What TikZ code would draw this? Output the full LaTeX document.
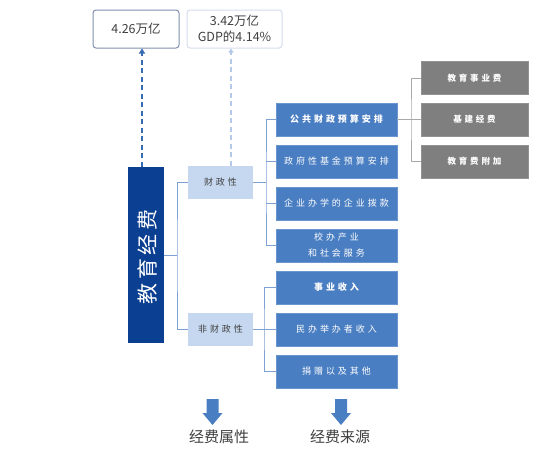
\documentclass[tikz,border=0pt]{standalone}
\usepackage{fontspec}
\setmainfont{Noto Sans CJK SC}
\newfontfamily\spcfont[LetterSpace=33]{Noto Sans CJK SC}
\newfontfamily\eduspc[LetterSpace=18]{Noto Sans CJK SC}
\usetikzlibrary{arrows.meta}
\definecolor{darkblue}{HTML}{0B3F91}
\definecolor{midblue}{HTML}{4A7EC2}
\definecolor{midborder}{HTML}{6A96D0}
\definecolor{paleblue}{HTML}{C6D8EF}
\definecolor{linkblue}{HTML}{7EA0D2}
\definecolor{boxgray}{HTML}{7F7F7F}
\definecolor{linkgray}{HTML}{A8A8A8}
\definecolor{textgray}{HTML}{404040}
\definecolor{topborder}{HTML}{8090B0}
\definecolor{lightborder}{HTML}{D3DEF0}
\definecolor{lightdash}{HTML}{B4C8E8}
\begin{document}
\begin{tikzpicture}[x=1pt,y=-1pt,
  topbox/.style={draw, rounded corners=3pt, line width=1pt, text=textgray,
    font=\fontsize{12.5}{16}\selectfont, align=center, inner sep=0pt},
  bluebox/.style={fill=midblue, draw=midborder, line width=0.6pt, text=white,
    minimum width=121pt, minimum height=33pt, inner sep=0pt, align=center,
    font=\spcfont\fontsize{9}{16}\selectfont},
  graybox/.style={fill=boxgray, draw=boxgray!85!white, line width=0.6pt, text=white,
    minimum width=107pt, minimum height=33pt, inner sep=0pt, align=center,
    font=\spcfont\bfseries\fontsize{8.5}{14}\selectfont},
  palebox/.style={fill=paleblue, text=textgray, minimum width=65pt, minimum height=33pt,
    inner sep=0pt, font=\spcfont\fontsize{9}{14}\selectfont},
  bline/.style={draw=linkblue, line width=1pt},
  gline/.style={draw=linkgray, line width=1pt},
  bigarrow/.style={fill=midblue, draw=none},
  caption/.style={text=textgray, font=\fontsize{15}{18}\selectfont}
]
\useasboundingbox[fill=white] (0,0) rectangle (538,448);

% top value boxes
\node[topbox, draw=topborder, minimum width=86pt, minimum height=38pt] (t1) at (136,29) {4.26万亿};
\node[topbox, draw=lightborder, minimum width=95pt, minimum height=38pt] (t2) at (234.5,29) {3.42万亿\\GDP的4.14\%};

% main box
\node[fill=darkblue, minimum width=36pt, minimum height=176pt, inner sep=0pt] (edu) at (146,255) {};
\node[rotate=90, text=white, font=\eduspc\fontsize{21}{24}\selectfont, inner sep=0pt] (edutext) at (147,257) {教育经费};

% middle boxes
\node[palebox] (cz) at (220.5,182.5) {财政性};
\node[palebox] (fcz) at (220.5,329.5) {非财政性};

% right column
\node[bluebox, font=\spcfont\bfseries\fontsize{9}{16}\selectfont] (r1) at (336.5,119.5) {公共财政预算安排};
\node[bluebox] (r2) at (336.5,161.5) {政府性基金预算安排};
\node[bluebox] (r3) at (336.5,203.5) {企业办学的企业拨款};
\node[bluebox] (r4) at (336.5,245.5) {校办产业\\和社会服务};
\node[bluebox, font=\spcfont\bfseries\fontsize{9}{16}\selectfont] (r5) at (336.5,287.5) {事业收入};
\node[bluebox] (r6) at (336.5,329.5) {民办举办者收入};
\node[bluebox] (r7) at (336.5,371.5) {捐赠以及其他};

% gray boxes
\node[graybox] (g1) at (474.5,78) {教育事业费};
\node[graybox] (g2) at (474.5,119.5) {基建经费};
\node[graybox] (g3) at (474.5,161.5) {教育费附加};

% junctions
\coordinate (j1) at (177,255);
\coordinate (j2) at (266,182.5);
\coordinate (j3) at (264,329.5);
\coordinate (j4) at (411,119.5);

% connectors
\draw[bline] (edu.east) -- (j1);
\draw[bline] (cz.west) -| (j1) |- (fcz.west);
\draw[bline] (cz.east) -- (j2);
\draw[bline] (r1.west) -| (j2) |- (r4.west);
\draw[bline] (r2.west) -- (r2.west -| j2);
\draw[bline] (r3.west) -- (r3.west -| j2);
\draw[bline] (fcz.east) -- (r6.west);
\draw[bline] (r5.west) -| (j3) |- (r7.west);
\draw[gline] (r1.east) -- (g2.west);
\draw[gline] (g1.west) -| (j4) |- (g3.west);

% dashed arrows to top boxes
\draw[draw=midblue!70!darkblue, line width=2.4pt, dash pattern=on 5pt off 3.5pt,
  -{Triangle[width=6pt,length=5pt]}] ([xshift=-4pt]edu.north) -- ([xshift=-4pt]edu.north |- t1.south);
\draw[draw=lightdash, line width=1.3pt, dash pattern=on 5pt off 3.5pt,
  -{Triangle[width=5pt,length=4pt]}] ([xshift=10.5pt]cz.north) -- ([xshift=10.5pt]cz.north |- t2.south);

% bottom arrows and captions
\fill[bigarrow] (206.5,399) -- (218.5,399) -- (218.5,413) -- (222.5,413) -- (212.5,425) -- (202.5,413) -- (206.5,413) -- cycle;
\fill[bigarrow] (335,399) -- (347,399) -- (347,413) -- (351,413) -- (341,425) -- (331,413) -- (335,413) -- cycle;
\node[caption] (c1) at (219,437) {经费属性};
\node[caption] (c2) at (340,437) {经费来源};
\end{tikzpicture}
\end{document}
